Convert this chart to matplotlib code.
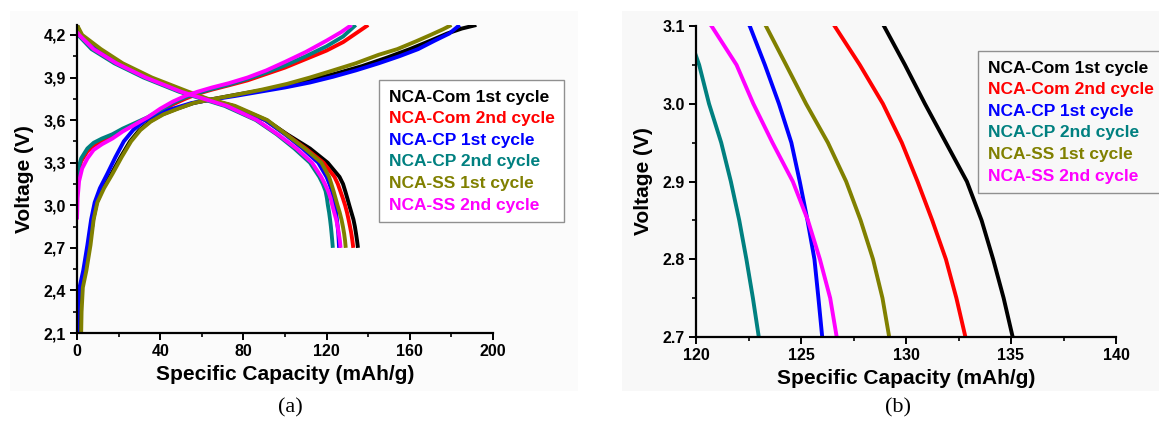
import matplotlib
matplotlib.use("Agg")
import matplotlib.pyplot as plt
from matplotlib.patches import Rectangle
from matplotlib.ticker import MultipleLocator, FuncFormatter

plt.rcParams['font.family'] = ['Liberation Sans', 'DejaVu Sans']
plt.rcParams['font.weight'] = 'bold'

W, H = 1159, 422

NAMES = ["NCA-Com 1st cycle", "NCA-Com 2nd cycle", "NCA-CP 1st cycle",
         "NCA-CP 2nd cycle", "NCA-SS 1st cycle", "NCA-SS 2nd cycle"]
COLORS = ["#000000", "#ff0000", "#0000ff", "#008080", "#808000", "#ff00ff"]

# --- discharge curves (voltage grid shared, capacity per sample) ---
DIS1_V = [4.27, 4.2, 4.1, 4.0, 3.9, 3.8, 3.75, 3.7, 3.6, 3.5, 3.4, 3.3, 3.2,
          3.15, 3.1, 3.05, 3.0, 2.95, 2.9, 2.85, 2.8, 2.75, 2.7]
DIS2_V = [4.22, 4.2, 4.1, 4.0, 3.9, 3.8, 3.75, 3.7, 3.6, 3.5, 3.4, 3.3, 3.2,
          3.15, 3.1, 3.05, 3.0, 2.95, 2.9, 2.85, 2.8, 2.75, 2.7]

com1_dis = [0, 1.5, 10, 20, 34, 52, 62, 75, 91, 101, 112, 120.5, 126.2, 127.9,
            128.95, 129.95, 130.9, 131.9, 132.9, 133.6, 134.15, 134.65, 135.08]
com2_dis = [0, 1.5, 10, 20, 34, 52, 62, 75, 90.5, 100.5, 110, 118.5, 123.8, 125.4,
            126.6, 127.8, 128.9, 129.8, 130.55, 131.25, 131.9, 132.4, 132.83]
cp1_dis = [0, 1.5, 10, 20, 34, 52, 62, 74.5, 90.5, 100, 108.5, 116, 120, 121.4,
           122.56, 123.28, 123.95, 124.54, 124.94, 125.31, 125.64, 125.83, 126.01]
cp2_dis = [0, 0.5, 7, 18, 32, 49, 60, 71, 86, 96, 104.5, 112, 116.5, 118.2,
           119.5, 120.15, 120.62, 121.2, 121.66, 122.06, 122.4, 122.71, 122.99]
ss1_dis = [0, 2.5, 11.5, 22, 36, 53.5, 63, 76, 91.5, 100.5, 109.5, 117.5, 121.2, 122.3,
           123.33, 124.29, 125.24, 126.28, 127.15, 127.84, 128.43, 128.88, 129.2]
ss2_dis = [0, 1, 8, 19, 33, 50, 61, 72, 86.5, 96.5, 105.5, 113, 117.4, 119.2,
           120.74, 121.93, 122.73, 123.64, 124.61, 125.33, 125.9, 126.39, 126.7]

# --- charge curves ---
com1_ch_cap = [1.3, 1.6, 2.2, 4.0, 6.0, 7.8, 9.5, 12.5, 16.5, 21, 25.5, 30, 35, 41, 48,
               56, 66, 77, 89, 101, 113, 125, 137, 149, 160, 170, 178, 185, 192]
com1_ch_v = [2.1, 2.25, 2.42, 2.54, 2.72, 2.9, 3.02, 3.12, 3.22, 3.34, 3.45, 3.53, 3.59,
             3.64, 3.68, 3.72, 3.75, 3.78, 3.81, 3.845, 3.885, 3.93, 3.98, 4.04, 4.1,
             4.16, 4.21, 4.245, 4.27]
ss1_ch_cap = [2.0, 2.2, 2.8, 4.5, 6.5, 8.0, 9.8, 13, 17, 21.5, 26, 30.5, 35.5, 41.5, 48.5,
              56, 66, 77, 89, 101, 112, 122, 134, 145, 154, 163, 170, 176, 180]
ss1_ch_v = [2.1, 2.25, 2.42, 2.54, 2.72, 2.9, 3.02, 3.12, 3.22, 3.34, 3.45, 3.53, 3.59,
            3.64, 3.68, 3.72, 3.75, 3.78, 3.815, 3.855, 3.9, 3.945, 4.0, 4.06, 4.1,
            4.155, 4.2, 4.24, 4.27]
cp1_ch_cap = [0.0, 0.4, 1.2, 3.0, 5.0, 6.8, 8.5, 11, 14.5, 18.5, 22.5, 27, 32, 38, 46,
              55, 65, 76, 88, 100, 112, 123, 134, 145, 155, 164, 172, 179, 184]
cp1_ch_v = [2.1, 2.25, 2.42, 2.54, 2.72, 2.9, 3.02, 3.12, 3.22, 3.34, 3.45, 3.53, 3.59,
            3.64, 3.68, 3.72, 3.745, 3.77, 3.8, 3.83, 3.865, 3.905, 3.95, 4.0, 4.05,
            4.1, 4.16, 4.21, 4.27]
com2_ch_cap = [0, 0.5, 2, 5, 8, 12, 17, 22, 28, 34, 40, 46, 52, 58, 65, 73, 82, 91,
               100, 110, 120, 128, 134, 140]
com2_ch_v = [3.1, 3.22, 3.31, 3.38, 3.42, 3.45, 3.49, 3.53, 3.57, 3.61, 3.66, 3.71,
             3.75, 3.785, 3.815, 3.845, 3.88, 3.925, 3.97, 4.03, 4.09, 4.15, 4.21, 4.27]
cp2_ch_cap = [0, 0.5, 2, 5, 8, 12, 17, 22, 28, 34, 40, 46, 52, 58, 65, 73, 82, 91,
              100, 110, 120, 128, 134]
cp2_ch_v = [3.15, 3.25, 3.33, 3.4, 3.44, 3.47, 3.5, 3.54, 3.58, 3.62, 3.67, 3.72,
            3.76, 3.79, 3.82, 3.85, 3.89, 3.935, 3.985, 4.05, 4.12, 4.19, 4.27]
ss2_ch_cap = [0, 0.3, 1.0, 2.5, 5, 8, 12, 17, 22, 28, 34, 40, 46, 52, 58, 65, 73, 82,
              91, 100, 110, 120, 127, 132]
ss2_ch_v = [2.9, 3.05, 3.17, 3.26, 3.33, 3.39, 3.43, 3.47, 3.52, 3.57, 3.62, 3.68,
            3.73, 3.77, 3.8, 3.83, 3.86, 3.9, 3.95, 4.01, 4.08, 4.16, 4.22, 4.27]

dis_caps = [com1_dis, com2_dis, cp1_dis, cp2_dis, ss1_dis, ss2_dis]
dis_vs = [DIS1_V, DIS2_V, DIS1_V, DIS2_V, DIS1_V, DIS2_V]
ch_caps = [com1_ch_cap, com2_ch_cap, cp1_ch_cap, cp2_ch_cap, ss1_ch_cap, ss2_ch_cap]
ch_vs = [com1_ch_v, com2_ch_v, cp1_ch_v, cp2_ch_v, ss1_ch_v, ss2_ch_v]

LW = 2.8
BG = "#f8f8f8"

fig = plt.figure(figsize=(W / 100, H / 100), dpi=100)
fig.patch.set_facecolor("white")

# light grey panels behind each subfigure
fig.add_artist(Rectangle((10 / W, 1 - 391 / H), 568 / W, 380 / H, transform=fig.transFigure,
                         facecolor="#fbfbfb", edgecolor="none", zorder=0))
fig.add_artist(Rectangle((622 / W, 1 - 391 / H), (W - 622) / W, 380 / H, transform=fig.transFigure,
                         facecolor=BG, edgecolor="none", zorder=0))

ax1 = fig.add_axes([77 / W, (H - 333) / H, 416 / W, 308 / H])
ax2 = fig.add_axes([696 / W, (H - 337) / H, 420 / W, 311 / H])

for i in range(6):
    ax1.plot(ch_caps[i], ch_vs[i], color=COLORS[i], lw=LW, solid_capstyle="butt")
    ax1.plot(dis_caps[i], dis_vs[i], color=COLORS[i], lw=LW, label=NAMES[i],
             solid_capstyle="butt")
    ax2.plot(dis_caps[i], dis_vs[i], color=COLORS[i], lw=LW, label=NAMES[i],
             solid_capstyle="butt")

ax1.set_xlim(0, 200)
ax1.set_ylim(2.1, 4.27)
ax1.xaxis.set_major_locator(MultipleLocator(40))
ax1.xaxis.set_minor_locator(MultipleLocator(20))
ax1.yaxis.set_major_locator(MultipleLocator(0.3))
ax1.yaxis.set_minor_locator(MultipleLocator(0.15))
ax1.yaxis.set_major_formatter(FuncFormatter(lambda v, p: f"{v:.1f}".replace(".", ",")))

ax2.set_xlim(120, 140)
ax2.set_ylim(2.7, 3.1)
ax2.xaxis.set_major_locator(MultipleLocator(5))
ax2.xaxis.set_minor_locator(MultipleLocator(2.5))
ax2.yaxis.set_major_locator(MultipleLocator(0.1))
ax2.yaxis.set_minor_locator(MultipleLocator(0.05))
ax2.yaxis.set_major_formatter(FuncFormatter(lambda v, p: f"{v:.1f}"))

for ax in (ax1, ax2):
    ax.set_facecolor("none")
    ax.spines["top"].set_visible(False)
    ax.spines["right"].set_visible(False)
    for s in ("left", "bottom"):
        ax.spines[s].set_linewidth(1.6)
        ax.spines[s].set_zorder(5)
    ax.tick_params(which="major", direction="out", length=5, width=1.4, labelsize=11.5, pad=3)
    ax.tick_params(which="minor", direction="out", length=3, width=1.2)
    for lab in ax.get_xticklabels() + ax.get_yticklabels():
        lab.set_fontweight("bold")
    ax.set_xlabel("Specific Capacity (mAh/g)", fontsize=15, fontweight="bold", labelpad=4)
    ax.set_ylabel("Voltage (V)", fontsize=15, fontweight="bold", labelpad=7)


def add_legend(ax, x, y, face):
    leg = ax.legend(loc="upper left", bbox_to_anchor=(x / W, 1 - y / H),
                    bbox_transform=fig.transFigure, borderaxespad=0,
                    handlelength=0, handletextpad=0, labelspacing=0.37,
                    borderpad=0.55, fancybox=False, framealpha=1,
                    facecolor=face, edgecolor="#909090",
                    prop={"size": 12.5, "weight": "bold"})
    leg.get_frame().set_linewidth(1.0)
    for h, t, c in zip(leg.legend_handles, leg.get_texts(), COLORS):
        h.set_visible(False)
        t.set_color(c)
    return leg


add_legend(ax1, 379, 80, "white")
add_legend(ax2, 978, 51, BG)

fig.text(290 / W, 1 - 408 / H, "(a)", ha="center", va="center",
         fontfamily="Liberation Serif", fontsize=16, fontweight="normal")
fig.text(898 / W, 1 - 408 / H, "(b)", ha="center", va="center",
         fontfamily="Liberation Serif", fontsize=16, fontweight="normal")

fig.savefig("out.png", dpi=100)
